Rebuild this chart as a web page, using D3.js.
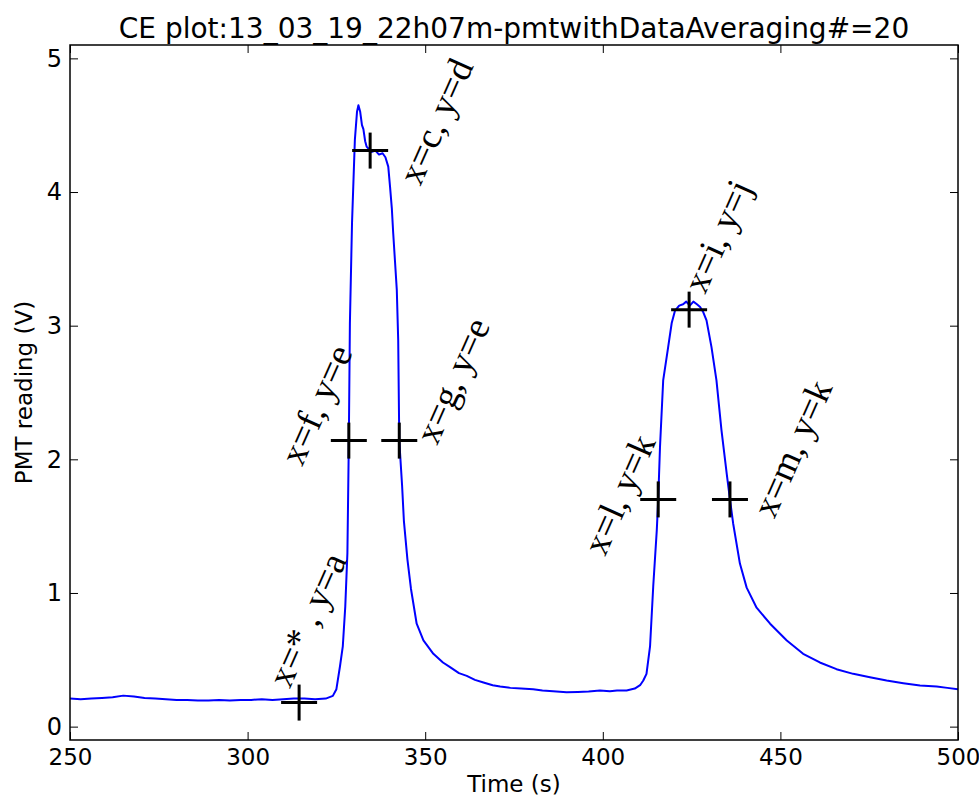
<!DOCTYPE html>
<html>
<head>
<meta charset="utf-8">
<script src="https://cdn.jsdelivr.net/npm/d3@7"></script>
<style>
  body { margin: 0; background: #fff; }
  text { font-family: "DejaVu Sans", sans-serif; }
</style>
</head>
<body>
<div id="canvas"></div>
<script>
// PMT trace
var times = [250, 253, 256, 259, 262, 265, 268, 271, 274, 277, 280, 283, 286, 289, 292, 295, 298, 301, 304, 307,
  310, 313, 316, 319, 322, 324, 325, 326, 326.8, 327.5, 328.1, 328.5, 328.8, 329.4, 330.2, 330.8, 331.2, 331.7,
  332.2, 332.6, 333.1, 333.5, 334.2, 335, 336, 337, 338, 338.8, 339.6, 340.1, 340.6, 341, 341.5, 342, 342.4,
  342.7, 343.5, 344, 345, 346, 347.6, 349.5, 352.3, 355, 357, 359.5, 361.7, 364, 366.4, 369, 371.1, 374, 377,
  380.4, 383, 386, 389.8, 393, 396, 399.2, 402, 404, 406.7, 409, 410.5, 411.4, 412.3, 413.3, 414.2, 415.2,
  415.6, 416.1, 417, 418.4, 419.4, 420.3, 421.5, 422.6, 423.5, 424.5, 425.5, 426.5, 427.4, 428.3, 429.2, 430.6,
  432, 433.4, 434.9, 435.8, 436.7, 438.6, 440.5, 443.3, 447.1, 451.8, 456.4, 461.1, 465.8, 470.5, 475.2, 479.9,
  484.6, 489.3, 494, 497, 500];
var volts = [0.21, 0.205, 0.21, 0.215, 0.22, 0.232, 0.225, 0.215, 0.21, 0.205, 0.2, 0.2, 0.195, 0.195, 0.2, 0.195,
  0.2, 0.2, 0.205, 0.2, 0.205, 0.21, 0.21, 0.205, 0.21, 0.23, 0.28, 0.45, 0.6, 0.9, 1.3, 2.14, 3.02, 3.77, 4.39,
  4.6, 4.65, 4.6, 4.5, 4.47, 4.38, 4.34, 4.32, 4.3, 4.31, 4.28, 4.29, 4.26, 4.19, 4.04, 3.88, 3.69, 3.48, 3.27,
  2.89, 2.14, 1.8, 1.54, 1.25, 1.03, 0.77, 0.645, 0.545, 0.48, 0.445, 0.4, 0.38, 0.35, 0.33, 0.31, 0.3, 0.29,
  0.285, 0.28, 0.27, 0.265, 0.257, 0.26, 0.262, 0.27, 0.265, 0.27, 0.27, 0.285, 0.31, 0.345, 0.395, 0.6, 1.05,
  1.47, 1.7, 2.09, 2.59, 2.84, 3.02, 3.11, 3.15, 3.16, 3.18, 3.15, 3.18, 3.16, 3.14, 3.1, 3.04, 2.84, 2.59, 2.22,
  1.89, 1.7, 1.52, 1.22, 1.04, 0.89, 0.77, 0.645, 0.545, 0.48, 0.43, 0.395, 0.37, 0.345, 0.325, 0.307, 0.3, 0.29,
  0.28];

// marked points and their notes
var markX = [314.5, 334.5, 328.5, 342.7, 424.3, 415.6, 435.8];
var markY = [0.18, 4.31, 2.14, 2.14, 3.12, 1.70, 1.70];
var noteText = ["x=* , y=a", "x=c, y=d", "x=f, y=e", "x=g, y=e", "x=i, y=j", "x=l, y=k", "x=m, y=k"];
var noteX = [311.9, 348.6, 315.3, 353.3, 428.8, 400.6, 448.3];
var noteY = [0.28, 4.04, 1.94, 2.10, 3.23, 1.27, 1.55];

var xTicks = [250, 300, 350, 400, 450, 500];
var yTicks = [0, 1, 2, 3, 4, 5];

var margin = {top: 45, right: 21, bottom: 58, left: 70};
var width = 979 - margin.left - margin.right;
var height = 798 - margin.top - margin.bottom;

var svg = d3.select("#canvas")
    .append("svg")
        .attr("width", 979)
        .attr("height", 798)
    .append("g")
        .attr("transform", "translate(" + margin.left + "," + margin.top + ")");

var xScale = d3.scaleLinear().domain([250, 500]).range([0, width]);
var yScale = d3.scaleLinear().domain([-0.1, 5.1]).range([height, 0]);

svg.append("clipPath").attr("id", "clip")
    .append("rect").attr("width", width).attr("height", height);

// the trace
var line = d3.line()
    .x(function(d, i) { return xScale(times[i]); })
    .y(function(d) { return yScale(d); });

svg.append("path")
    .datum(volts)
    .attr("clip-path", "url(#clip)")
    .attr("d", line)
    .attr("fill", "none")
    .attr("stroke", "#0000ff")
    .attr("stroke-width", 2)
    .attr("stroke-linejoin", "round");

// + markers
var cross = svg.append("g").attr("stroke", "#000").attr("stroke-width", 3);
markX.forEach(function(mx, i) {
    var cx = xScale(mx), cy = yScale(markY[i]);
    cross.append("line").attr("x1", cx - 18).attr("x2", cx + 18).attr("y1", cy).attr("y2", cy);
    cross.append("line").attr("x1", cx).attr("x2", cx).attr("y1", cy - 18).attr("y2", cy + 18);
});

// rotated notes
noteText.forEach(function(t, i) {
    svg.append("text")
        .attr("transform", "translate(" + xScale(noteX[i]) + "," + yScale(noteY[i]) + ") rotate(-66)")
        .style("font-family", "'Liberation Serif', serif")
        .style("font-size", "37px")
        .attr("fill", "#000")
        .text(t);
});

// axes, ticks pointing inward on all four sides
function styleAxis(g) {
    g.select(".domain").remove();
    g.selectAll("line").attr("stroke", "#000");
    g.selectAll("text").attr("fill", "#000").style("font-size", "23px");
}

svg.append("g")
    .attr("transform", "translate(0," + height + ")")
    .call(d3.axisBottom(xScale).tickValues(xTicks).tickSizeInner(-8).tickPadding(9))
    .call(styleAxis);
svg.append("g")
    .call(d3.axisTop(xScale).tickValues(xTicks).tickSizeInner(-8).tickFormat(""))
    .call(styleAxis);
svg.append("g")
    .call(d3.axisLeft(yScale).tickValues(yTicks).tickSizeInner(-8).tickPadding(8).tickFormat(d3.format("d")))
    .call(styleAxis)
    .selectAll("text").style("font-size", "24px");
svg.append("g")
    .attr("transform", "translate(" + width + ",0)")
    .call(d3.axisRight(yScale).tickValues(yTicks).tickSizeInner(-8).tickFormat(""))
    .call(styleAxis);

svg.append("rect")
    .attr("width", width)
    .attr("height", height)
    .attr("fill", "none")
    .attr("stroke", "#000")
    .attr("stroke-width", 1.5);

// labels
svg.append("text")
    .attr("x", width / 2)
    .attr("y", -7)
    .style("text-anchor", "middle")
    .style("font-size", "28px")
    .text("CE plot:13_03_19_22h07m-pmtwithDataAveraging#=20");

svg.append("text")
    .attr("x", width / 2)
    .attr("y", height + 52)
    .style("text-anchor", "middle")
    .style("font-size", "23px")
    .text("Time (s)");

svg.append("text")
    .attr("transform", "rotate(-90)")
    .attr("x", -height / 2)
    .attr("y", -38)
    .style("text-anchor", "middle")
    .style("font-size", "23px")
    .text("PMT reading (V)");
</script>
</body>
</html>
